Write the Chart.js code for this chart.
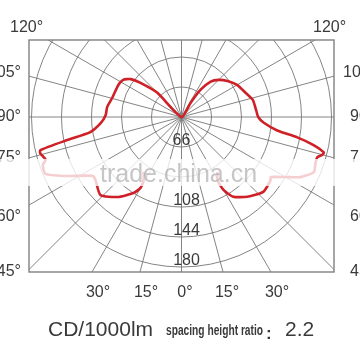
<!DOCTYPE html>
<html>
<head>
<meta charset="utf-8">
<script src="https://cdn.jsdelivr.net/npm/chart.js@4/dist/chart.umd.min.js"></script>
<style>
html,body{margin:0;padding:0;background:#fff;}
#c{display:block;}
</style>
</head>
<body>
<canvas id="c" width="360" height="360"></canvas>
<script>
// Polar photometric curve: signed angle from nadir (negative = left), intensity in cd/1000lm
const curveAngles = [-34.6, -31.1, -30, -32.3, -38.7, -46.1, -53.8, -56.5, -63, -67.3, -71, -72.5, -75.7, -76.8, -78.6, -80.6, -85.8, -91.5, -97.7, -106.2, -116.9, -122.5, -126.7, -129.7, -135,
  180,
  147.3, 144.9, 140.4, 135, 128, 120, 111, 103.5, 95, 90, 86, 82, 80, 78, 76, 75, 73.5, 71, 67.4, 63.2, 60, 56, 54.7, 47.5, 39.5, 33, 29.9, 29.7, 33.2];
const curveIntensity = [80, 88, 98, 108, 123, 135, 128, 128, 156, 177, 176, 171, 175, 174, 140, 111, 97, 91, 90, 86, 85, 83, 76, 64, 41,
  0,
  20, 40, 55, 63, 70, 77, 82, 88, 90, 92, 99, 116, 141, 162, 176, 175, 170, 170, 172, 160, 144, 129, 131, 133, 124, 114, 101, 87, 79];

const ringValues = [36, 72, 108, 144, 180];
const ringLabels = ['66', '', '108', '144', '180'];
const spokeStep = 15;
const leftAngleLabels = ['105°', '90°', '75°', '60°', '45°'];
const rightAngleLabels = ['105°', '90°', '75°', '60°', '45°'];
const bottomAngleLabels = ['30°', '15°', '0°', '15°', '30°'];
const topAngleLabel = '120°';
const unitLabel = 'CD/1000lm';
const ratioLabel = 'spacing height ratio';
const ratioValue = '2.2';

const pts = curveAngles.map((a, i) => {
  const t = a * Math.PI / 180;
  return { x: curveIntensity[i] * Math.sin(t), y: -curveIntensity[i] * Math.cos(t) };
});

const FONT = '"Liberation Sans", Arial, sans-serif';

const gridPlugin = {
  id: 'polarGrid',
  beforeDatasetsDraw(chart) {
    const { ctx, chartArea: ca, scales: { x, y } } = chart;
    const cx = x.getPixelForValue(0), cy = y.getPixelForValue(0);
    const pxPer = x.getPixelForValue(1) - cx;
    ctx.save();
    ctx.beginPath();
    ctx.rect(ca.left, ca.top, ca.right - ca.left, ca.bottom - ca.top);
    ctx.clip();
    ctx.strokeStyle = '#767676';
    ctx.lineWidth = 0.9;
    ringValues.forEach(v => {
      ctx.beginPath();
      ctx.arc(cx, cy, v * pxPer, 0, Math.PI * 2);
      ctx.stroke();
    });
    for (let a = 0; a < 360; a += spokeStep) {
      const t = a * Math.PI / 180;
      ctx.beginPath();
      ctx.moveTo(cx, cy);
      ctx.lineTo(x.getPixelForValue(400 * Math.sin(t)), y.getPixelForValue(-400 * Math.cos(t)));
      ctx.stroke();
    }
    ctx.restore();
    // frame
    ctx.save();
    ctx.strokeStyle = '#808080';
    ctx.lineWidth = 1.4;
    ctx.strokeRect(ca.left, ca.top, ca.right - ca.left, ca.bottom - ca.top);
    ctx.restore();

    // labels
    ctx.save();
    ctx.fillStyle = '#3a3a3a';
    ctx.textBaseline = 'middle';
    ctx.font = '16px ' + FONT;
    ctx.textAlign = 'left';
    ctx.fillText(topAngleLabel, 10, 28);
    ctx.fillText(topAngleLabel, 313, 28);
    const sideY = [73, 117, 158, 217, 272];
    ctx.textAlign = 'right';
    leftAngleLabels.forEach((s, i) => ctx.fillText(s, 21, sideY[i]));
    ctx.textAlign = 'left';
    rightAngleLabels.forEach((s, i) => ctx.fillText(s, i === 0 ? 343 : 350, sideY[i]));
    ctx.textAlign = 'center';
    const bx = [98, 146, 185, 227, 277];
    bottomAngleLabels.forEach((s, i) => ctx.fillText(s, bx[i], 293));
    ctx.font = '16px ' + FONT;
    ringLabels.forEach((s, i) => {
      if (!s) return;
      const r = ringValues[i] * pxPer;
      ctx.fillText(s, i === 0 ? cx : cx + 5, cy + r - 6);
    });
    // bottom caption
    ctx.textAlign = 'left';
    ctx.font = '21px ' + FONT;
    ctx.fillText(unitLabel, 48, 330);
    ctx.font = 'bold 14px "Liberation Sans Narrow", "Liberation Sans", sans-serif';
    ctx.fillText(ratioLabel, 166, 331, 97);
    ctx.font = 'bold 17px ' + FONT;
    ctx.fillText(':', 266, 334);
    ctx.font = '21px ' + FONT;
    ctx.fillText(ratioValue, 285, 330);
    ctx.restore();
  },
  afterDatasetsDraw(chart) {
    const { ctx } = chart;
    ctx.save();
    ctx.fillStyle = 'rgba(255,255,255,0.78)';
    ctx.fillRect(0, 159, 360, 27);
    ctx.fillStyle = 'rgba(160,160,160,0.6)';
    ctx.font = '25px ' + FONT;
    ctx.textBaseline = 'alphabetic';
    ctx.textAlign = 'left';
    ctx.fillText('trade.china.cn', 100, 182);
    ctx.restore();
  }
};

new Chart(document.getElementById('c'), {
  type: 'scatter',
  data: {
    datasets: [{
      data: pts,
      showLine: true,
      borderColor: '#cf2027',
      borderWidth: 2.6,
      pointRadius: 0,
      tension: 0.2,
      fill: false
    }]
  },
  options: {
    responsive: false,
    devicePixelRatio: 1,
    animation: false,
    layout: { padding: { left: 29, right: 26, top: 40, bottom: 88 } },
    scales: {
      x: { type: 'linear', min: -183, max: 183, display: false },
      y: { type: 'linear', min: -186, max: 92.4, display: false }
    },
    plugins: { legend: { display: false }, tooltip: { enabled: false } }
  },
  plugins: [gridPlugin]
});
</script>
</body>
</html>
